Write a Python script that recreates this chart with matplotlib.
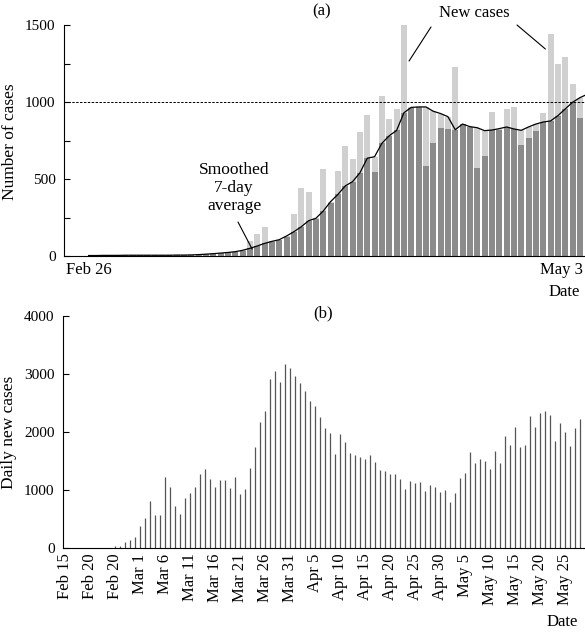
import numpy as np
import matplotlib
matplotlib.use('Agg')
import matplotlib.pyplot as plt

plt.rcParams['font.family'] = ['Liberation Serif', 'DejaVu Serif']
plt.rcParams['font.size'] = 12

# (a) new cases per day, Feb 26 .. May 3
new_cases = [2, 3, 5, 4, 6, 5, 4, 5, 6, 4, 5, 6, 5, 7,
             8, 11, 14, 17, 20, 24, 28, 34, 97, 143, 188, 92, 104, 125,
             273, 440, 413, 240, 567, 345, 552, 714, 632, 805, 916, 548,
             1039, 887, 955, 1500, 960, 965, 587, 734, 833, 823, 1230, 855,
             836, 574, 649, 935, 820, 957, 968, 721, 768, 810, 931, 1442,
             1249, 1292, 1117, 894]
# smoothed 7-day average (one extra day, runs past the last bar)
smoothed = [3, 3, 4, 4, 4, 5, 5, 5, 5, 5, 5, 5, 6, 6,
            7, 9, 12, 15, 19, 23, 28, 37, 50, 65, 82, 95, 106, 130,
            158, 190, 229, 245, 292, 353, 400, 455, 483, 540, 635, 645,
            732, 781, 815, 930, 965, 968, 968, 940, 925, 905, 820, 857,
            840, 833, 814, 818, 827, 838, 825, 816, 838, 857, 870, 877,
            911, 955, 998, 1028, 1050]
a_tick_labels = ['Feb 26', 'May 3']

# (b) daily new cases, Feb 25 .. May 28 (day index counted from Feb 15)
b_first_day = 10
daily_new = [29, 29, 98, 138, 195,
             374, 511, 810, 563, 563, 1218, 1052, 730, 580, 862, 942, 1052,
             1276, 1356, 1184, 1046, 1167, 1167, 1029, 1218, 937, 1011, 1379,
             1741, 2178, 2356, 2914, 3052, 2862, 3172, 3098,
             2965, 2845, 2707, 2529, 2454, 2259, 2069, 1977, 1621, 1960, 1822,
             1632, 1609, 1563, 1529, 1603, 1488, 1351, 1328, 1282, 1282, 1184,
             1017, 1149, 1115, 1132, 977, 1092, 1046, 960,
             1000, 787, 954, 1201, 1293, 1655, 1465, 1534, 1500, 1368, 1672,
             1465, 1937, 1782, 2086, 1741, 1782, 2270, 2086, 2328, 2362, 2293,
             1845, 2155, 2000, 1764, 2063, 2224]
b_tick_labels = ['Feb 15', 'Feb 20', 'Feb 20', 'Mar 1', 'Mar 6', 'Mar 11',
                 'Mar 16', 'Mar 21', 'Mar 26', 'Mar 31', 'Apr 5', 'Apr 10',
                 'Apr 15', 'Apr 20', 'Apr 25', 'Apr 30', 'May 5', 'May 10',
                 'May 15', 'May 20', 'May 25']

W, H = 585, 633
light = '#d0d0d0'
dark = '#8b8b8b'

fig = plt.figure(figsize=(W / 100, H / 100), dpi=100)


def style_axes(ax):
    for side in ['top', 'right']:
        ax.spines[side].set_visible(False)
    for side in ['left', 'bottom']:
        ax.spines[side].set_linewidth(0.8)
    ax.tick_params(axis='y', direction='in', length=4, width=0.8, pad=6,
                   labelsize=11)
    ax.tick_params(axis='x', length=0)


# ---- panel (a) ----
ax1 = fig.add_axes([64 / W, 1 - 256 / H, 521 / W, 231 / H])
new = np.array(new_cases)
sm = np.array(smoothed)
days_a = np.arange(len(new))
ax1.bar(days_a, np.maximum(new, sm[:len(new)]), width=0.82, color=light, lw=0)
ax1.bar(days_a, np.minimum(new, sm[:len(new)]), width=0.82, color=dark, lw=0)
ax1.plot(np.arange(len(sm)), sm, color='black', lw=0.9, zorder=3)
ax1.axhline(1000, color='black', lw=0.7, ls=(0, (2.5, 1.5)))
ax1.set_xlim(-3.36, 67.7)
ax1.set_ylim(0, 1500)
ax1.set_yticks(np.arange(0, 1501, 250))
ax1.set_yticklabels(['0', '', '500', '', '1000', '', '1500'])
ax1.set_xticks([0, len(new) - 0.55])
ax1.set_xticklabels(a_tick_labels)
ax1.get_xticklabels()[1].set_horizontalalignment('right')
style_axes(ax1)
ax1.tick_params(axis='x', pad=4)

ax1.text(234, H - 188, 'Smoothed\n7-day\naverage', transform=None,
         ha='center', va='center', linespacing=1.15, fontsize=12.5)
ax1.annotate('', xy=(22.3, 45), xytext=(238, H - 222),
             textcoords='figure pixels',
             arrowprops=dict(arrowstyle='-', lw=0.8, color='black',
                             shrinkA=0, shrinkB=0))
ax1.text(474, H - 13, 'New cases', transform=None, ha='center', va='center')
ax1.annotate('', xy=(43.7, 1266), xytext=(431, H - 27),
             textcoords='figure pixels',
             arrowprops=dict(arrowstyle='-', lw=0.8, color='black',
                             shrinkA=0, shrinkB=0))
ax1.annotate('', xy=(62.3, 1344), xytext=(517, H - 25),
             textcoords='figure pixels',
             arrowprops=dict(arrowstyle='-', lw=0.8, color='black',
                             shrinkA=0, shrinkB=0))

fig.text(322 / W, 1 - 11 / H, '(a)', ha='center', va='center')
fig.text(580 / W, 1 - 292 / H, 'Date', ha='right', va='center')
fig.text(10 / W, 1 - 142 / H, 'Number of cases', rotation=90,
         ha='center', va='center', fontsize=12.5)

# ---- panel (b) ----
ax2 = fig.add_axes([63 / W, 1 - 548 / H, 522 / W, 232 / H])
days_b = b_first_day + np.arange(len(daily_new))
ax2.vlines(days_b, 0, daily_new, color='#555555', lw=0.9)
ax2.set_xlim(-0.47, 104.0)
ax2.set_ylim(0, 4000)
ax2.set_yticks(np.arange(0, 4001, 1000))
ax2.set_xticks(np.arange(0, 5 * len(b_tick_labels), 5))
ax2.set_xticklabels(b_tick_labels, rotation=90, va='top', ha='center')
style_axes(ax2)
ax2.tick_params(axis='x', pad=4)

fig.text(323 / W, 1 - 313 / H, '(b)', ha='center', va='center')
fig.text(578 / W, 1 - 622 / H, 'Date', ha='right', va='center')
fig.text(9 / W, 1 - 432 / H, 'Daily new cases', rotation=90,
         ha='center', va='center', fontsize=12.5)

fig.savefig('out.png', dpi=100)
